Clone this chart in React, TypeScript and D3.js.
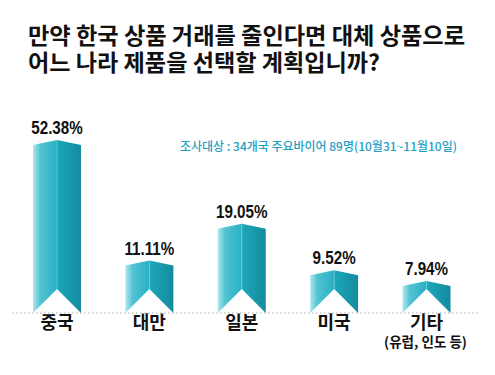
import React from "react";
import * as d3 from "d3";

const categories = ["중국", "대만", "일본", "미국", "기타"];
const values = [52.38, 11.11, 19.05, 9.52, 7.94];
const valueLabels = ["52.38%", "11.11%", "19.05%", "9.52%", "7.94%"];
const subLabels = ["", "", "", "", "(유럽, 인도 등)"];
const titleLines = ["만약 한국 상품 거래를 줄인다면 대체 상품으로", "어느 나라 제품을 선택할 계획입니까?"];
const subtitle = "조사대상 : 34개국 주요바이어 89명(10월31~11월10일)";

const W = 495;
const H = 375;
const baseline = 313;
const barW = 48;
const peak = 5;
const notch = 24;

export default function App() {
  const x = d3.scalePoint<string>().domain(categories).range([57, 426.5]);
  const ext = d3.extent(values) as [number, number];
  const y = d3.scalePow().exponent(0.25).domain(ext).range([286, 145]);
  const kr = "'Noto Sans CJK KR', 'Noto Sans', sans-serif";
  const num = "'Liberation Sans', Arial, sans-serif";

  return (
    <svg width={W} height={H} style={{ position: "absolute", left: 0, top: 0, background: "#fff" }}>
      <defs>
        <linearGradient id="lf" x1="0" x2="1" y1="0" y2="0">
          <stop offset="0" stopColor="#b2e8ef" />
          <stop offset="0.3" stopColor="#52c3d2" />
          <stop offset="1" stopColor="#27b1c4" />
        </linearGradient>
        <linearGradient id="rf" x1="0" x2="1" y1="0" y2="0">
          <stop offset="0" stopColor="#1ea7ba" />
          <stop offset="1" stopColor="#148b9e" />
        </linearGradient>
      </defs>
      {titleLines.map((t, i) => (
        <text
          key={i}
          x={28}
          y={43.5 + i * 27}
          fontFamily={kr}
          fontWeight={700}
          fontSize={22.5}
          fill="#111"
          textLength={i === 0 ? 437 : 352}
          lengthAdjust="spacingAndGlyphs"
        >
          {t}
        </text>
      ))}
      <text x={180} y={151} fontFamily={kr} fontWeight={500} fontSize={12} fill="#1f9ec2" textLength={277} lengthAdjust="spacingAndGlyphs">
        {subtitle}
      </text>
      <line x1={12} x2={479} y1={baseline} y2={baseline} stroke="#b0b0b0" strokeWidth={1.2} strokeDasharray="1.5 2.5" />
      {categories.map((c, i) => {
        const cx = x(c) as number;
        const x0 = cx - barW / 2;
        const x1 = cx + barW / 2;
        const ys = y(values[i]);
        const yt = ys - peak;
        const yn = baseline - notch;
        const left = `M${x0},${baseline} L${x0},${ys} L${cx},${yt} L${cx},${yn} Z`;
        const right = `M${cx},${yt} L${x1},${ys} L${x1},${baseline} L${cx},${yn} Z`;
        return (
          <g key={c}>
            <path d={left} fill="url(#lf)" />
            <path d={right} fill="url(#rf)" />
            <line x1={cx} x2={cx} y1={yt} y2={yn} stroke="#7fd3de" strokeWidth={0.6} />
            <text
              transform={`translate(${cx},${yt - 6}) scale(0.8,1)`}
              textAnchor="middle"
              fontFamily={num}
              fontWeight={700}
              fontSize={19}
              fill="#111"
            >
              {valueLabels[i]}
            </text>
            <text x={cx} y={328.5} textAnchor="middle" fontFamily={kr} fontWeight={700} fontSize={18} fill="#111">
              {c}
            </text>
            {subLabels[i] && (
              <text x={cx - 1} y={346.5} textAnchor="middle" fontFamily={kr} fontWeight={700} fontSize={13.5} fill="#111">
                {subLabels[i]}
              </text>
            )}
          </g>
        );
      })}
    </svg>
  );
}
